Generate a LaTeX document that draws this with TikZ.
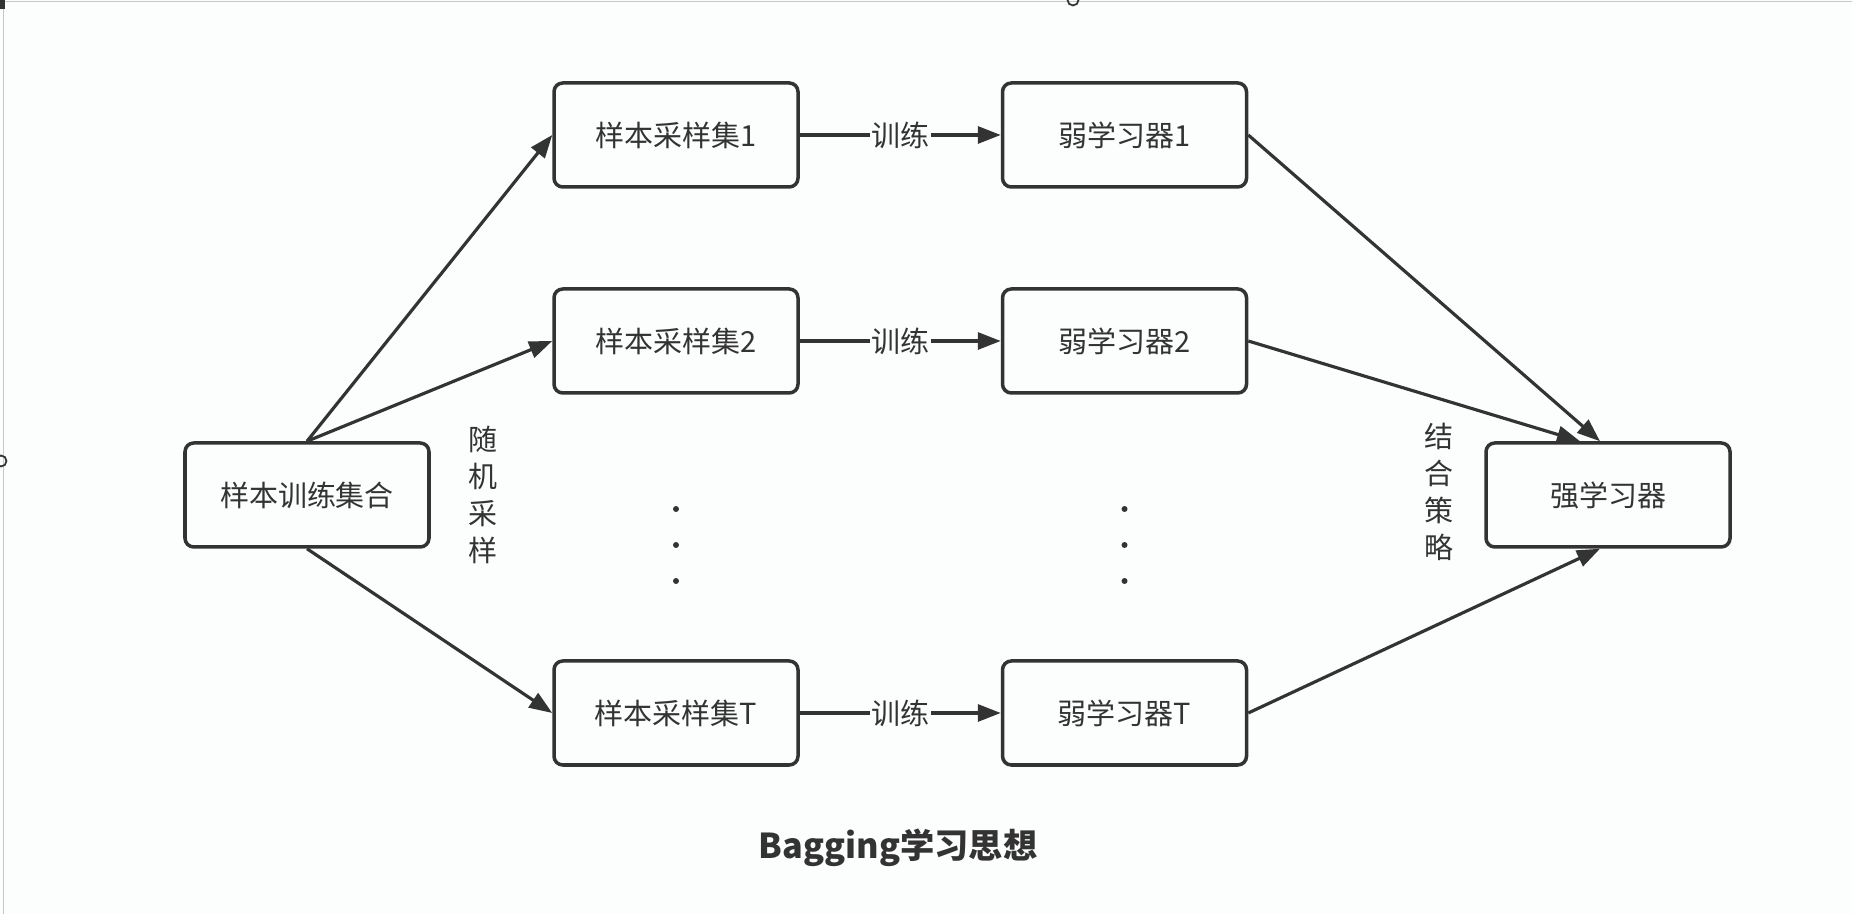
\documentclass[tikz,border=0pt]{standalone}
\usepackage{fontspec}
\setmainfont{Noto Sans CJK SC}
\usepackage{tikz}
\usetikzlibrary{positioning,arrows.meta,calc}
\usepackage{xcolor}
\definecolor{paper}{HTML}{FBFEFC}
\definecolor{ink}{HTML}{333333}
\definecolor{edgegray}{HTML}{C4C8C6}
\tikzset{
  learner/.style={draw=ink, line width=2pt, rounded corners=5pt,
    minimum width=4.88cm, minimum height=2.08cm, text=ink,
    font=\fontsize{16.5}{18}\selectfont},
  vlabel/.style={align=center, inner sep=0pt, text=ink,
    font=\fontsize{16.5}{21}\selectfont},
  tag/.style={fill=paper, inner sep=1pt, text=ink,
    font=\fontsize{16.5}{18}\selectfont},
  flow/.style={->, draw=ink, line width=1.8pt},
  >={Triangle[length=0.46cm,width=0.34cm]},
}

\begin{document}
\begin{tikzpicture}[node distance=4.02cm]

\fill[paper] (0,0) rectangle (37.04,18.28);
\useasboundingbox (0,0) rectangle (37.04,18.28);

% screen edges
\draw[edgegray, line width=1pt] (0,18.25) -- (37.04,18.25);
\draw[edgegray, line width=1pt] (0.07,0) -- (0.07,18.28);
\draw[ink, line width=1pt] (21.46,18.28) circle (0.11);
\draw[ink, line width=1pt] (0.02,9.06) circle (0.11);
\fill[ink] (0,18.1) rectangle (0.1,18.28);

\node[learner] (src) at (6.14,8.38) {样本训练集合};

\node[learner] (set1) at (13.52,15.58) {样本采样集1};
\node[learner] (set2) at (13.52,11.46) {样本采样集2};
\node[learner] (setT) at (13.52,4.02) {样本采样集T};

\node[learner, right=of set1] (weak1) {弱学习器1};
\node[learner, right=of set2] (weak2) {弱学习器2};
\node[learner, right=of setT] (weakT) {弱学习器T};

\node[learner] (strong) at (32.16,8.38) {强学习器};

\node[vlabel, right=0.74cm of src] (sampling) {随\\机\\采\\样};
\node[vlabel, left=0.6cm of strong, yshift=0.06cm] (combine) {结\\合\\策\\略};

\node[font=\fontsize{19.5}{22}\selectfont\bfseries, text=ink] (title) at (17.96,1.32) {Bagging学习思想};

% vertical dots between branches
\foreach \y in {8.10,7.38,6.66} {
  \fill[ink] (set1.center |- 0,\y) circle (0.06);
  \fill[ink] (weak1.center |- 0,\y) circle (0.06);
}

\coordinate (in1) at ($(strong.north)+(-0.16,0)$);
\coordinate (in2) at ($(strong.north)+(-0.56,0)$);
\coordinate (inT) at ($(strong.south)+(-0.16,0)$);

\path
(src.north) edge[flow] (set1.west)
(src.north) edge[flow] (set2.west)
(src.south) edge[flow] (setT.west)

(set1) edge[flow] node[tag] {训练} (weak1)
(set2) edge[flow] node[tag] {训练} (weak2)
(setT) edge[flow] node[tag] {训练} (weakT)

(weak1.east) edge[flow] (in1)
(weak2.east) edge[flow] (in2)
(weakT.east) edge[flow] (inT);

\end{tikzpicture}
\end{document}
